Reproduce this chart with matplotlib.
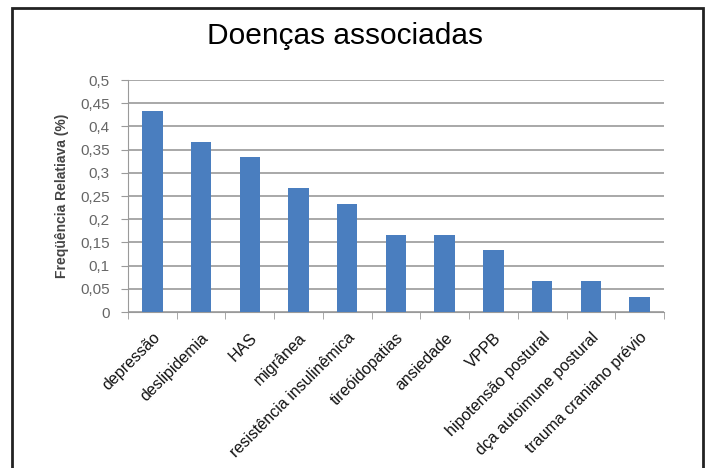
import matplotlib
matplotlib.use("Agg")
import matplotlib.pyplot as plt
from matplotlib.patches import Rectangle
from matplotlib.ticker import FixedLocator, FuncFormatter
import numpy as np

# Chart data
categories = ["depressão", "deslipidemia", "HAS", "migrânea",
              "resistência insulinêmica", "tireóidopatias", "ansiedade",
              "VPPB", "hipotensão postural", "dça autoimune postural",
              "trauma craniano prévio"]
values = [0.4333, 0.3667, 0.3333, 0.2667, 0.2333, 0.1667, 0.1667,
          0.1333, 0.0667, 0.0667, 0.0333]
y_ticks = [0, 0.05, 0.1, 0.15, 0.2, 0.25, 0.3, 0.35, 0.4, 0.45, 0.5]

plt.rcParams['font.family'] = ['Liberation Sans', 'DejaVu Sans']

fig = plt.figure(figsize=(7.09, 4.68), dpi=100)
ax = fig.add_axes([0.1805, 0.3333, 0.756, 0.4957])

x = np.arange(len(categories))
ax.bar(x, values, width=0.42, color='#4a7ebf', zorder=3)

ax.set_xlim(-0.5, len(categories) - 0.5)
ax.set_ylim(0, 0.5)
ax.yaxis.set_major_locator(FixedLocator(y_ticks))
ax.yaxis.set_major_formatter(FuncFormatter(lambda v, p: f"{v:g}".replace('.', ',')))
ax.grid(axis='y', color='#9a9a9a', linewidth=1.2, zorder=0)

ax.set_xticks(x)
ax.set_xticklabels(categories, rotation=45, ha='right', rotation_mode='anchor',
                   fontsize=11.5, color='#111111')
ax.set_xticks(np.arange(-0.5, len(categories), 1), minor=True)
ax.tick_params(axis='x', which='major', length=0, pad=13)
ax.tick_params(axis='x', which='minor', length=5, color='#9a9a9a')
ax.tick_params(axis='y', length=5, color='#9a9a9a', labelsize=11,
               labelcolor='#666666', pad=8)

for s in ['top', 'right']:
    ax.spines[s].set_visible(False)
for s in ['left', 'bottom']:
    ax.spines[s].set_color('#9a9a9a')

ax.set_ylabel("Freqüência Relatiava (%)", fontsize=10, fontweight='bold',
              color='#444444', labelpad=8)

fig.text(0.487, 0.923, "Doenças associadas", ha='center', va='center',
         fontsize=21.5, color='black')

# outer frame
fig.patches.append(Rectangle((12 / 709, -0.05), 691 / 709, 1.05 - 8 / 468,
                             transform=fig.transFigure, fill=False,
                             edgecolor='#222222', linewidth=2))

fig.savefig("out.png", dpi=100)
